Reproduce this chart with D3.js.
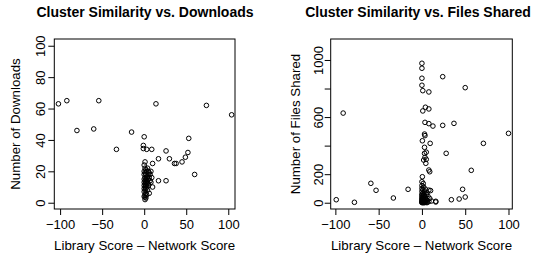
<!DOCTYPE html>
<html>
<head>
<meta charset="utf-8">
<script src="https://cdn.jsdelivr.net/npm/d3@7"></script>
<style>
  body { margin: 0; background: #fff; }
  svg { display: block; }
  text { font-family: "Liberation Sans", Arial, sans-serif; fill: #000; }
  .axis path, .axis line { stroke: #000; stroke-width: 1; }
  .axis text { font-size: 13px; }
</style>
</head>
<body>
<svg id="chart"></svg>
<script>
// Left panel: score difference vs. number of downloads
const downloadsX = [-102, -92, -54, 14, 74, 104, -80, -60, -15, 0, -33, 53,
  -1, -1, 3, 9, 26, 30, 17, 10, 36, 38, 45, 49, 52, 60, 17, 26, 10, 6, 1, 1,
  0, 1, 2, 0, 1, 3, 5, 8, 0, 2, 4, 1, 3, 6, 9, 0, 2, 5, 1, 3, 7, 0, 2, 4, 8,
  1, 3, 0, 2, 5, 1, 3, 0, 2, 1, 4, 0, 2, 1, 3, 0, 2, 1, 4, 6, 5, 7];
const downloadsY = [63, 65, 65, 63, 62, 56, 46, 47, 45, 42, 34, 41,
  36.5, 34.5, 34, 34, 33, 28, 28, 25, 25, 25, 26, 29, 32, 18, 14, 14, 10, 6, 3.5, 2,
  24, 22, 21, 20, 19, 20, 20, 20, 18, 18, 17, 16, 16, 16, 16, 15, 15, 15, 14, 14, 14, 13, 13, 13, 13,
  12, 12, 11, 11, 11, 10, 10, 9, 9, 8, 8, 7, 6, 5, 5, 4, 3, 26, 22, 19, 12, 18];

// Right panel: score difference vs. number of files shared
const sharedX = [-99, -78, -59, -53, -33, -16, -91, 34, 43, 50, 47, 57, 71, 100,
  28, 24, 37, 50, 24, 16, 16,
  0, 0, 0, 0, 1, 8, 1, 4, 8, 3.5, 8, 12.7,
  3, 3.5, 0.5, 9.5, 3, 3, 5, 3.5, 5, 2, 4.5, 8, 9, 0.5, 0, 1.5,
  0, 2, 0, 4, 1, 8, 10, 0, 3, 6, 1, 0, 5, 2, 0, 3, 7, 1, 0, 4, 2, 9, 0, 1, 5,
  0, 3, 6, 1, 0, 2, 4, 8, 0, 1, 3, 0, 2, 5, 0, 1, 3, 6, 11];
const sharedY = [21, 3, 136, 87, 33, 94, 628, 21, 26, 40, 94, 227, 416, 486,
  346, 542, 556, 806, 883, 10, 5,
  977, 942, 872, 823, 785, 776, 643, 669, 657, 563, 554, 537,
  481, 470, 434, 416, 388, 346, 354, 318, 304, 299, 276, 229, 217, 182, 147, 135,
  120, 110, 100, 95, 90, 88, 85, 80, 75, 70, 65, 60, 58, 55, 50, 48, 45, 42, 38, 36, 33, 30, 28, 25, 22,
  20, 18, 16, 14, 12, 10, 9, 8, 6, 5, 4, 3, 2, 2, 1, 0, 0, 1, 12];

const xTicks = [-100, -50, 0, 50, 100];
const downloadsTicks = [0, 20, 40, 60, 80, 100];
const sharedTicks = [0, 200, 400, 600, 800, 1000];
const sharedTickLabels = ['0', '200', '', '600', '', '1000'];

const svg = d3.select('#chart')
  .attr('width', 538)
  .attr('height', 257);

function drawPanel(cfg) {
  const g = svg.append('g');

  const x = d3.scaleLinear().domain(cfg.xDomain).range([cfg.left, cfg.right]);
  const y = d3.scaleLinear().domain(cfg.yDomain).range([cfg.bottom, cfg.top]);

  // x axis
  const xAxisG = g.append('g')
    .attr('class', 'axis')
    .attr('transform', `translate(0,${cfg.bottom})`)
    .call(d3.axisBottom(x).tickValues(xTicks).tickSize(6).tickPadding(5)
      .tickSizeOuter(0).tickFormat(d => d < 0 ? '\u2212' + Math.abs(d) : d));
  xAxisG.select('.domain').remove();

  // y axis, labels parallel to the axis as in R
  const yAxisG = g.append('g')
    .attr('class', 'axis')
    .attr('transform', `translate(${cfg.left},0)`)
    .call(d3.axisLeft(y).tickValues(cfg.yTicks).tickSize(6).tickSizeOuter(0)
      .tickFormat((d, i) => cfg.yTickLabels[i]));
  yAxisG.select('.domain').remove();
  yAxisG.selectAll('.tick text')
    .attr('x', null).attr('dy', null)
    .attr('text-anchor', 'middle')
    .attr('transform', `translate(${-cfg.tickGap},0) rotate(-90)`);

  // box
  g.append('rect')
    .attr('x', cfg.left).attr('y', cfg.top)
    .attr('width', cfg.right - cfg.left).attr('height', cfg.bottom - cfg.top)
    .attr('fill', 'none').attr('stroke', '#000');

  // points
  g.append('g').selectAll('circle')
    .data(cfg.xs.map((d, i) => [d, cfg.ys[i]]))
    .join('circle')
    .attr('cx', d => x(d[0]))
    .attr('cy', d => y(d[1]))
    .attr('r', 2.3)
    .attr('fill', 'none')
    .attr('stroke', '#000')
    .attr('stroke-width', 1);

  // titles
  g.append('text')
    .attr('x', cfg.titleX).attr('y', 17)
    .attr('text-anchor', 'middle')
    .style('font-size', '14px').style('font-weight', 'bold')
    .text(cfg.title);

  g.append('text')
    .attr('x', (cfg.left + cfg.right) / 2).attr('y', 250)
    .attr('text-anchor', 'middle')
    .style('font-size', '13.3px')
    .text('Library Score \u2013 Network Score');

  g.append('text')
    .attr('transform', `translate(${cfg.left - cfg.labelGap},${(cfg.top + cfg.bottom) / 2}) rotate(-90)`)
    .attr('text-anchor', 'middle')
    .style('font-size', '13.3px')
    .text(cfg.yLabel);
}

drawPanel({
  left: 54.3, right: 235, top: 39, bottom: 209,
  xDomain: [-106.9, 108], yDomain: [-4, 104.3],
  xs: downloadsX, ys: downloadsY,
  yTicks: downloadsTicks, yTickLabels: downloadsTicks.map(String),
  tickGap: 9, labelGap: 34,
  title: 'Cluster Similarity vs. Downloads', titleX: 145,
  yLabel: 'Number of Downloads'
});

drawPanel({
  left: 330.7, right: 512.3, top: 39, bottom: 209,
  xDomain: [-105.4, 104.4], yDomain: [-44, 1147],
  xs: sharedX, ys: sharedY,
  yTicks: sharedTicks, yTickLabels: sharedTickLabels,
  tickGap: 7.5, labelGap: 31,
  title: 'Cluster Similarity vs. Files Shared', titleX: 418,
  yLabel: 'Number of Files Shared'
});
</script>
</body>
</html>
